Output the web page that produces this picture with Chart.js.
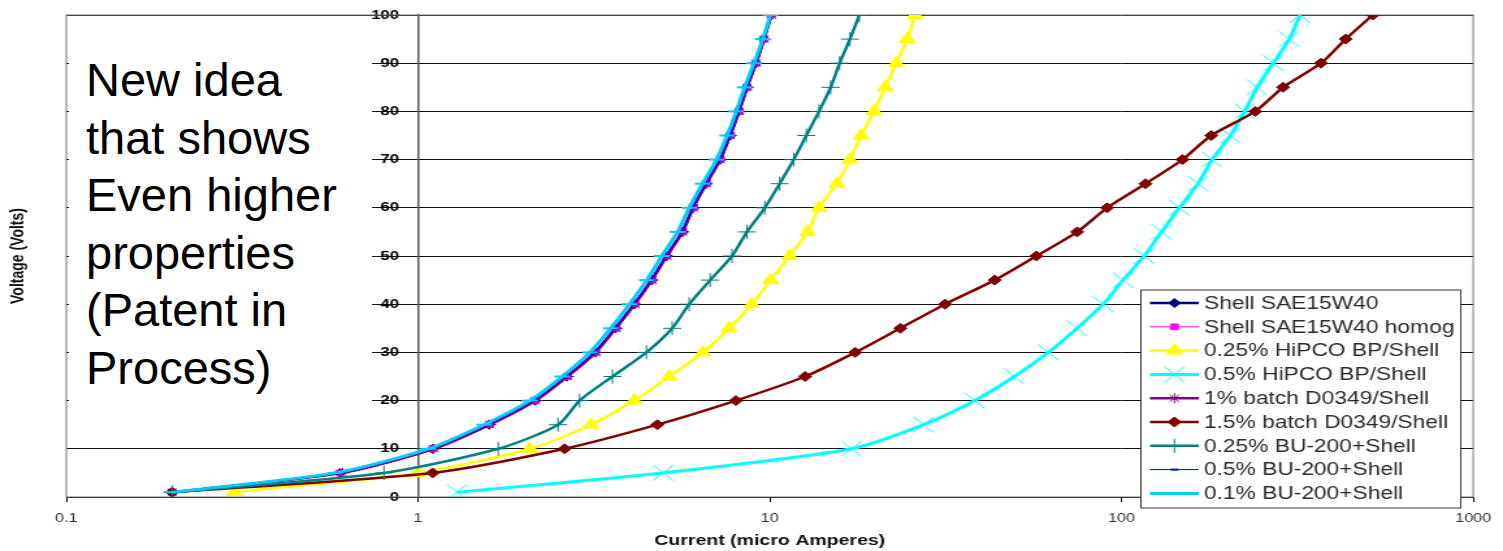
<!DOCTYPE html>
<html>
<head>
<meta charset="utf-8">
<title>Voltage vs Current</title>
<script src="https://cdn.jsdelivr.net/npm/chart.js@4.4.0/dist/chart.umd.min.js"></script>
<style>
    html, body { margin: 0; padding: 0; background: #fff; }
    #wrap { position: relative; width: 1503px; height: 551px; overflow: hidden; }
    #ivChart { position: absolute; left: 0; top: 0; }
    #note {
        position: absolute; left: 69px; top: 18px; width: 303px; height: 415px;
        background: #fff;
    }
    #note div {
        position: absolute; left: 17px; top: 33px; white-space: nowrap;
        font-family: "Liberation Sans", Arial, sans-serif; font-size: 47px;
        line-height: 57.5px; color: #000;
    }
</style>
</head>
<body>
<div id="wrap">
    <!-- chart is drawn narrow and stretched to full width -->
    <canvas id="ivChart" width="1156" height="551" style="width:1503px;height:551px"></canvas>
    <div id="note"><div>New idea<br>that shows<br>Even higher<br>properties<br>(Patent in<br>Process)</div></div>
</div>
<script>
// Voltage steps (Volts), shared by every sample
const voltage = [1, 5, 10, 15, 20, 25, 30, 35, 40, 45, 50, 55, 60, 65, 70, 75, 80, 85, 90, 95, 100];

// Current readings (micro Amperes) at each voltage step
const shellSae   = [0.2, 0.6, 1.1, 1.59, 2.15, 2.65, 3.18, 3.64, 4.12, 4.61, 5.08, 5.64, 6.05, 6.59, 7.22, 7.71, 8.17, 8.61, 9.13, 9.62, 10.1];
const shellHomog = [0.2, 0.6, 1.1, 1.6, 2.14, 2.66, 3.2, 3.66, 4.14, 4.63, 5.1, 5.66, 6.08, 6.6, 7.24, 7.73, 8.2, 8.63, 9.15, 9.64, 10.1];
const hipco025   = [0.3, 1.0, 2.08, 3.1, 4.12, 5.18, 6.46, 7.66, 8.89, 10.07, 11.4, 12.8, 13.8, 15.5, 16.9, 18.2, 19.8, 21.3, 22.9, 24.6, 25.9];
const hipco05    = [1.29, 4.98, 17.1, 27.4, 38.3, 49.6, 62.0, 74.8, 88.7, 101, 116, 130, 146, 165, 181, 204, 224, 243, 270, 300, 322];
const batch1     = [0.2, 0.61, 1.11, 1.6, 2.16, 2.66, 3.2, 3.65, 4.13, 4.62, 5.1, 5.65, 6.06, 6.6, 7.23, 7.72, 8.18, 8.62, 9.14, 9.63, 10.1];
const batch15    = [0.2, 1.1, 2.61, 4.79, 8.01, 12.6, 17.5, 23.5, 31.5, 43.6, 57.3, 74.8, 91.0, 117, 149, 180, 240, 288, 369, 434, 518];
const bu025      = [0.2, 0.8, 1.69, 2.5, 2.88, 3.57, 4.46, 5.28, 5.9, 6.77, 7.81, 8.61, 9.68, 10.67, 11.7, 12.7, 13.8, 14.9, 15.8, 16.9, 17.97];
const bu05       = [0.2, 0.6, 1.09, 1.58, 2.13, 2.63, 3.17, 3.62, 4.1, 4.6, 5.07, 5.62, 6.04, 6.57, 7.2, 7.7, 8.15, 8.6, 9.12, 9.6, 10.05];
const bu01       = [0.2, 0.58, 1.07, 1.54, 2.08, 2.57, 3.08, 3.53, 3.99, 4.47, 4.93, 5.47, 5.9, 6.44, 7.06, 7.56, 8.03, 8.48, 9.02, 9.55, 10.05];

const sampleNames = [
    'Shell SAE15W40', 'Shell SAE15W40 homog', '0.25% HiPCO BP/Shell', '0.5% HiPCO BP/Shell',
    '1% batch D0349/Shell', '1.5% batch D0349/Shell', '0.25% BU-200+Shell', '0.5% BU-200+Shell',
    '0.1% BU-200+Shell'
];
const xTickLabels = ['0.1', '1', '10', '100', '1000'];

// Line / marker look per sample
const seriesStyles = [
    { data: shellSae,   color: '#000080', style: 'rectRot',  radius: 4.5, width: 2.5, pointWidth: 1 },
    { data: shellHomog, color: '#ff00ff', style: 'rect',     radius: 4,   width: 1,   pointWidth: 1 },
    { data: hipco025,   color: '#ffff00', style: 'triangle', radius: 7,   width: 2.5, pointWidth: 1 },
    { data: hipco05,    color: '#00ffff', style: 'crossRot', radius: 11,  width: 3,   pointWidth: 1 },
    { data: batch1,     color: '#800080', style: 'star',     radius: 5,   width: 2.5, pointWidth: 1 },
    { data: batch15,    color: '#800000', style: 'rectRot',  radius: 5,   width: 2.5, pointWidth: 1 },
    { data: bu025,      color: '#008080', style: 'cross',    radius: 7,   width: 2.5, pointWidth: 1 },
    { data: bu05,       color: '#0000ff', style: 'line',     radius: 3,   width: 1,   pointWidth: 2 },
    { data: bu01,       color: '#00ccff', style: 'line',     radius: 6,   width: 3,   pointWidth: 2 }
];

const FONT = '"Liberation Sans", Arial, sans-serif';

function isDecade(v) {
    const l = Math.log10(v);
    return Math.abs(l - Math.round(l)) < 1e-9;
}

const datasets = seriesStyles.map((s, i) => ({
    label: sampleNames[i],
    data: voltage.map((v, j) => ({ x: s.data[j], y: v })),
    showLine: true,
    borderColor: s.color,
    backgroundColor: s.color,
    borderWidth: s.width,
    pointStyle: s.style,
    pointRadius: s.radius,
    pointBorderWidth: s.pointWidth,
    pointBackgroundColor: s.color,
    pointBorderColor: s.color,
    tension: 0.25,
    order: sampleNames.length - i
}));

// Plot frame, rotated y title and the boxed legend
const extrasPlugin = {
    id: 'extras',
    beforeDatasetsDraw(chart) {
        const { ctx, chartArea: a } = chart;
        ctx.save();
        ctx.strokeStyle = '#777';
        ctx.lineWidth = 1;
        ctx.strokeRect(a.left, a.top, a.right - a.left, a.bottom - a.top);
        ctx.restore();
    },
    afterDraw(chart) {
        const ctx = chart.ctx;
        ctx.save();
        ctx.translate(14, 256);
        ctx.rotate(-Math.PI / 2);
        ctx.font = 'bold 14px ' + FONT;
        ctx.fillStyle = '#111';
        ctx.textAlign = 'center';
        ctx.textBaseline = 'middle';
        ctx.fillText('Voltage (Volts)', 0, 0);
        ctx.restore();

        // legend box
        const bx = 877.5, by = 290, bw = 246, bh = 218;
        ctx.save();
        ctx.fillStyle = '#fff';
        ctx.fillRect(bx, by, bw, bh);
        ctx.strokeStyle = '#333';
        ctx.lineWidth = 1;
        ctx.strokeRect(bx, by, bw, bh);
        chart.data.datasets.forEach((ds, i) => {
            const y = 303 + i * 23.8;
            ctx.strokeStyle = ds.borderColor;
            ctx.lineWidth = ds.borderWidth;
            ctx.beginPath();
            ctx.moveTo(884.5, y);
            ctx.lineTo(922, y);
            ctx.stroke();
            ctx.fillStyle = ds.pointBackgroundColor;
            ctx.lineWidth = ds.pointBorderWidth;
            Chart.helpers.drawPoint(ctx, {
                pointStyle: ds.pointStyle, radius: ds.pointRadius,
                rotation: 0, borderWidth: ds.pointBorderWidth
            }, 903.3, y);
            ctx.fillStyle = '#2a2a2a';
            ctx.font = '17.5px ' + FONT;
            ctx.textBaseline = 'middle';
            ctx.textAlign = 'left';
            ctx.fillText(ds.label, 926, y + 1);
        });
        ctx.restore();
    }
};

new Chart(document.getElementById('ivChart'), {
    type: 'scatter',
    data: { datasets: datasets },
    options: {
        responsive: false,
        animation: false,
        devicePixelRatio: 1,
        layout: { padding: { left: 51, right: 17, top: 15, bottom: 0 } },
        plugins: { legend: { display: false }, tooltip: { enabled: false } },
        scales: {
            x: {
                type: 'logarithmic',
                min: 0.1,
                max: 1000,
                afterFit(scale) { scale.height = 54; },
                grid: { drawOnChartArea: false, tickLength: 5, color: '#000' },
                border: { color: '#000', width: 1 },
                ticks: {
                    autoSkip: false,
                    maxRotation: 0,
                    padding: 9,
                    color: '#333',
                    font: { family: FONT, size: 12.5 },
                    callback: v => isDecade(v) ? xTickLabels[Math.round(Math.log10(v)) + 1] : null
                },
                title: {
                    display: true,
                    text: 'Current (micro Amperes)',
                    color: '#111',
                    font: { family: FONT, size: 15, weight: 'bold' },
                    padding: { top: 0, bottom: 1 }
                }
            },
            y: {
                min: 0,
                max: 100,
                position: { x: 1 },
                grid: { color: '#111', lineWidth: 1, drawTicks: false },
                border: { color: '#555', width: 1.5 },
                ticks: {
                    stepSize: 10,
                    color: '#000',
                    font: { family: FONT, size: 13, weight: 'bold' },
                    callback: v => v + '    '
                }
            }
        }
    },
    plugins: [extrasPlugin]
});
</script>
</body>
</html>
